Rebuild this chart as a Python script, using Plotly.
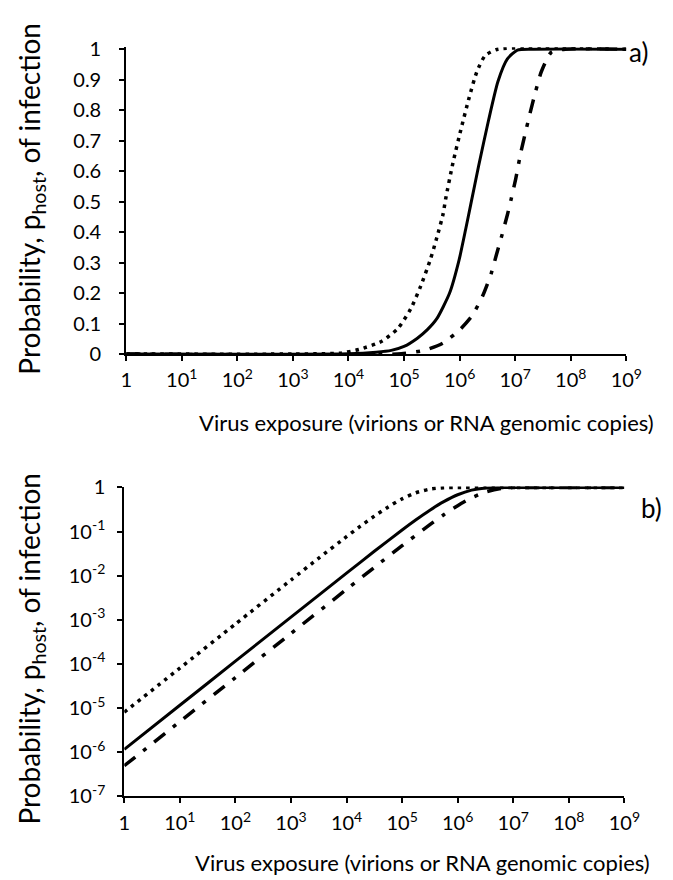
import plotly.graph_objects as go

# ---------------- data ----------------
# Panel a) linear probability, x = log10(virus exposure)
a_dot_logx = [0, 3.0, 3.85, 4.19, 4.60, 4.89, 5.12, 5.30, 5.47, 5.59, 5.70, 5.75, 5.88, 6.02, 6.17, 6.31, 6.46, 6.69, 9]
a_dot_p    = [0, 0.0, 0.003, 0.015, 0.042, 0.084, 0.148, 0.223, 0.308, 0.382, 0.457, 0.51, 0.627, 0.734, 0.84, 0.926, 0.979, 1.0, 1.0]

a_sol_logx = [0, 4.0, 4.5, 4.77, 5.0, 5.24, 5.42, 5.59, 5.82, 5.99, 6.11, 6.20, 6.34, 6.52, 6.69, 6.86, 7.04, 7.3, 9]
a_sol_p    = [0, 0.001, 0.006, 0.012, 0.025, 0.052, 0.08, 0.116, 0.20, 0.308, 0.41, 0.49, 0.615, 0.766, 0.894, 0.968, 0.997, 1.0, 1.0]

a_dd_logx = [0, 4.95, 5.38, 5.70, 6.01, 6.23, 6.42, 6.57, 6.66, 6.75, 6.86, 6.93, 7.01, 7.10, 7.18, 7.27, 7.36, 7.47, 7.65, 7.9, 9]
a_dd_p    = [0, 0.001, 0.013, 0.036, 0.081, 0.127, 0.193, 0.265, 0.324, 0.382, 0.457, 0.51, 0.575, 0.66, 0.723, 0.792, 0.856, 0.926, 0.99, 1.0, 1.0]

# Panel b) log probability
b_dot_logx = [0, 1, 2, 3, 3.5, 4, 4.25, 4.5, 4.75, 5, 5.25, 5.5, 5.75, 6, 6.5, 9]
b_dot_p    = [8e-6, 8e-5, 8e-4, 7.97e-3, 0.025, 0.0769, 0.1326, 0.2235, 0.3623, 0.5507, 0.759, 0.9203, 0.9889, 0.9997, 1.0, 1.0]

b_sol_logx = [0, 1, 2, 3, 4, 4.5, 5, 5.25, 5.5, 5.75, 6, 6.25, 6.5, 6.75, 7, 9]
b_sol_p    = [1.15e-6, 1.15e-5, 1.15e-4, 1.15e-3, 0.0114, 0.0357, 0.1086, 0.185, 0.305, 0.476, 0.683, 0.871, 0.974, 0.9984, 1.0, 1.0]

b_dd_logx = [0, 1, 2, 3, 4, 4.5, 5, 5.5, 5.75, 6, 6.25, 6.5, 6.75, 7, 7.5, 9]
b_dd_p    = [4.9e-7, 4.9e-6, 4.9e-5, 4.9e-4, 0.0049, 0.0154, 0.0478, 0.1435, 0.241, 0.387, 0.581, 0.788, 0.936, 0.9926, 1.0, 1.0]

x_tickvals = [1, 1e1, 1e2, 1e3, 1e4, 1e5, 1e6, 1e7, 1e8, 1e9]
x_ticktext = ["1", "10<sup>1</sup>", "10<sup>2</sup>", "10<sup>3</sup>", "10<sup>4</sup>",
              "10<sup>5</sup>", "10<sup>6</sup>", "10<sup>7</sup>", "10<sup>8</sup>", "10<sup>9</sup>"]
ya_tickvals = [0, 0.1, 0.2, 0.3, 0.4, 0.5, 0.6, 0.7, 0.8, 0.9, 1]
ya_ticktext = ["0", "0.1", "0.2", "0.3", "0.4", "0.5", "0.6", "0.7", "0.8", "0.9", "1"]
yb_tickvals = [1e-7, 1e-6, 1e-5, 1e-4, 1e-3, 1e-2, 1e-1, 1]
yb_ticktext = ["10<sup>-7</sup>", "10<sup>-6</sup>", "10<sup>-5</sup>", "10<sup>-4</sup>",
               "10<sup>-3</sup>", "10<sup>-2</sup>", "10<sup>-1</sup>", "1"]

x_title = "Virus exposure (virions or RNA genomic copies)"
y_title = "Probability, p<sub>host</sub>, of infection"

# ---------------- styling ----------------
FONT = "Lato"
W, H = 673, 880
DOT = "3.5px,5px"
DASHDOT = "14px,10px,4px,10px"

def xs(logs):
    return [10 ** v for v in logs]

fig = go.Figure()

styles = [
    (a_dot_logx, a_dot_p, dict(width=3.5, dash=DOT)),
    (a_dd_logx, a_dd_p, dict(width=3.5, dash=DASHDOT)),
    (a_sol_logx, a_sol_p, dict(width=3, dash="solid")),
]
for lx, p, ln in styles:
    fig.add_trace(go.Scatter(x=xs(lx), y=p, mode="lines", xaxis="x", yaxis="y",
                             line=dict(color="black", shape="spline", smoothing=0.6, **ln),
                             showlegend=False, hoverinfo="skip"))

styles_b = [
    (b_dot_logx, b_dot_p, dict(width=3.5, dash=DOT)),
    (b_dd_logx, b_dd_p, dict(width=3.5, dash=DASHDOT)),
    (b_sol_logx, b_sol_p, dict(width=3, dash="solid")),
]
for lx, p, ln in styles_b:
    fig.add_trace(go.Scatter(x=xs(lx), y=p, mode="lines", xaxis="x2", yaxis="y2",
                             line=dict(color="black", shape="spline", smoothing=0.6, **ln),
                             showlegend=False, hoverinfo="skip"))

axis_common = dict(showline=True, linecolor="black", linewidth=2, ticks="outside",
                   ticklen=5, tickwidth=2, tickcolor="black", showgrid=False, zeroline=False,
                   tickfont=dict(family=FONT, size=20, color="black"))

fig.update_layout(
    width=W, height=H,
    margin=dict(l=0, r=0, t=0, b=0),
    paper_bgcolor="white", plot_bgcolor="white",
    xaxis=dict(type="log", range=[0, 9], domain=[116 / W, 633 / W], anchor="y",
               tickvals=x_tickvals, ticktext=x_ticktext, ticklabelstandoff=2, **axis_common),
    yaxis=dict(range=[0, 1.006], domain=[1 - 343 / H, 1 - 28.1 / H], anchor="x",
               tickvals=ya_tickvals, ticktext=ya_ticktext, ticklabelstandoff=14, **axis_common),
    xaxis2=dict(type="log", range=[0, 9], domain=[114 / W, 631 / W], anchor="y2",
                tickvals=x_tickvals, ticktext=x_ticktext, ticklabelstandoff=3, **axis_common),
    yaxis2=dict(type="log", range=[-7, 0.02], domain=[1 - 797 / H, 1 - 479.1 / H], anchor="x2",
                tickvals=yb_tickvals, ticktext=yb_ticktext, ticklabelstandoff=8, **axis_common),
    annotations=[
        dict(text=y_title, x=18 / W, y=1 - 183 / H, xref="paper", yref="paper", textangle=-90,
             showarrow=False, xanchor="center", yanchor="middle",
             font=dict(family=FONT, size=28, color="black")),
        dict(text=y_title, x=18 / W, y=1 - 645 / H, xref="paper", yref="paper", textangle=-90,
             showarrow=False, xanchor="center", yanchor="middle",
             font=dict(family=FONT, size=28, color="black")),
        dict(text=x_title, x=426 / W, y=1 - 413 / H, xref="paper", yref="paper",
             showarrow=False, xanchor="center", yanchor="middle",
             font=dict(family=FONT, size=22, color="black")),
        dict(text=x_title, x=422 / W, y=1 - 865 / H, xref="paper", yref="paper",
             showarrow=False, xanchor="center", yanchor="middle",
             font=dict(family=FONT, size=22, color="black")),
        dict(text="a)", x=646 / W, y=1 - 33 / H, xref="paper", yref="paper",
             showarrow=False, xanchor="center", yanchor="middle",
             font=dict(family=FONT, size=26, color="black")),
        dict(text="b)", x=659 / W, y=1 - 501 / H, xref="paper", yref="paper",
             showarrow=False, xanchor="center", yanchor="middle",
             font=dict(family=FONT, size=26, color="black")),
    ],
)

fig.write_html("out.html")
